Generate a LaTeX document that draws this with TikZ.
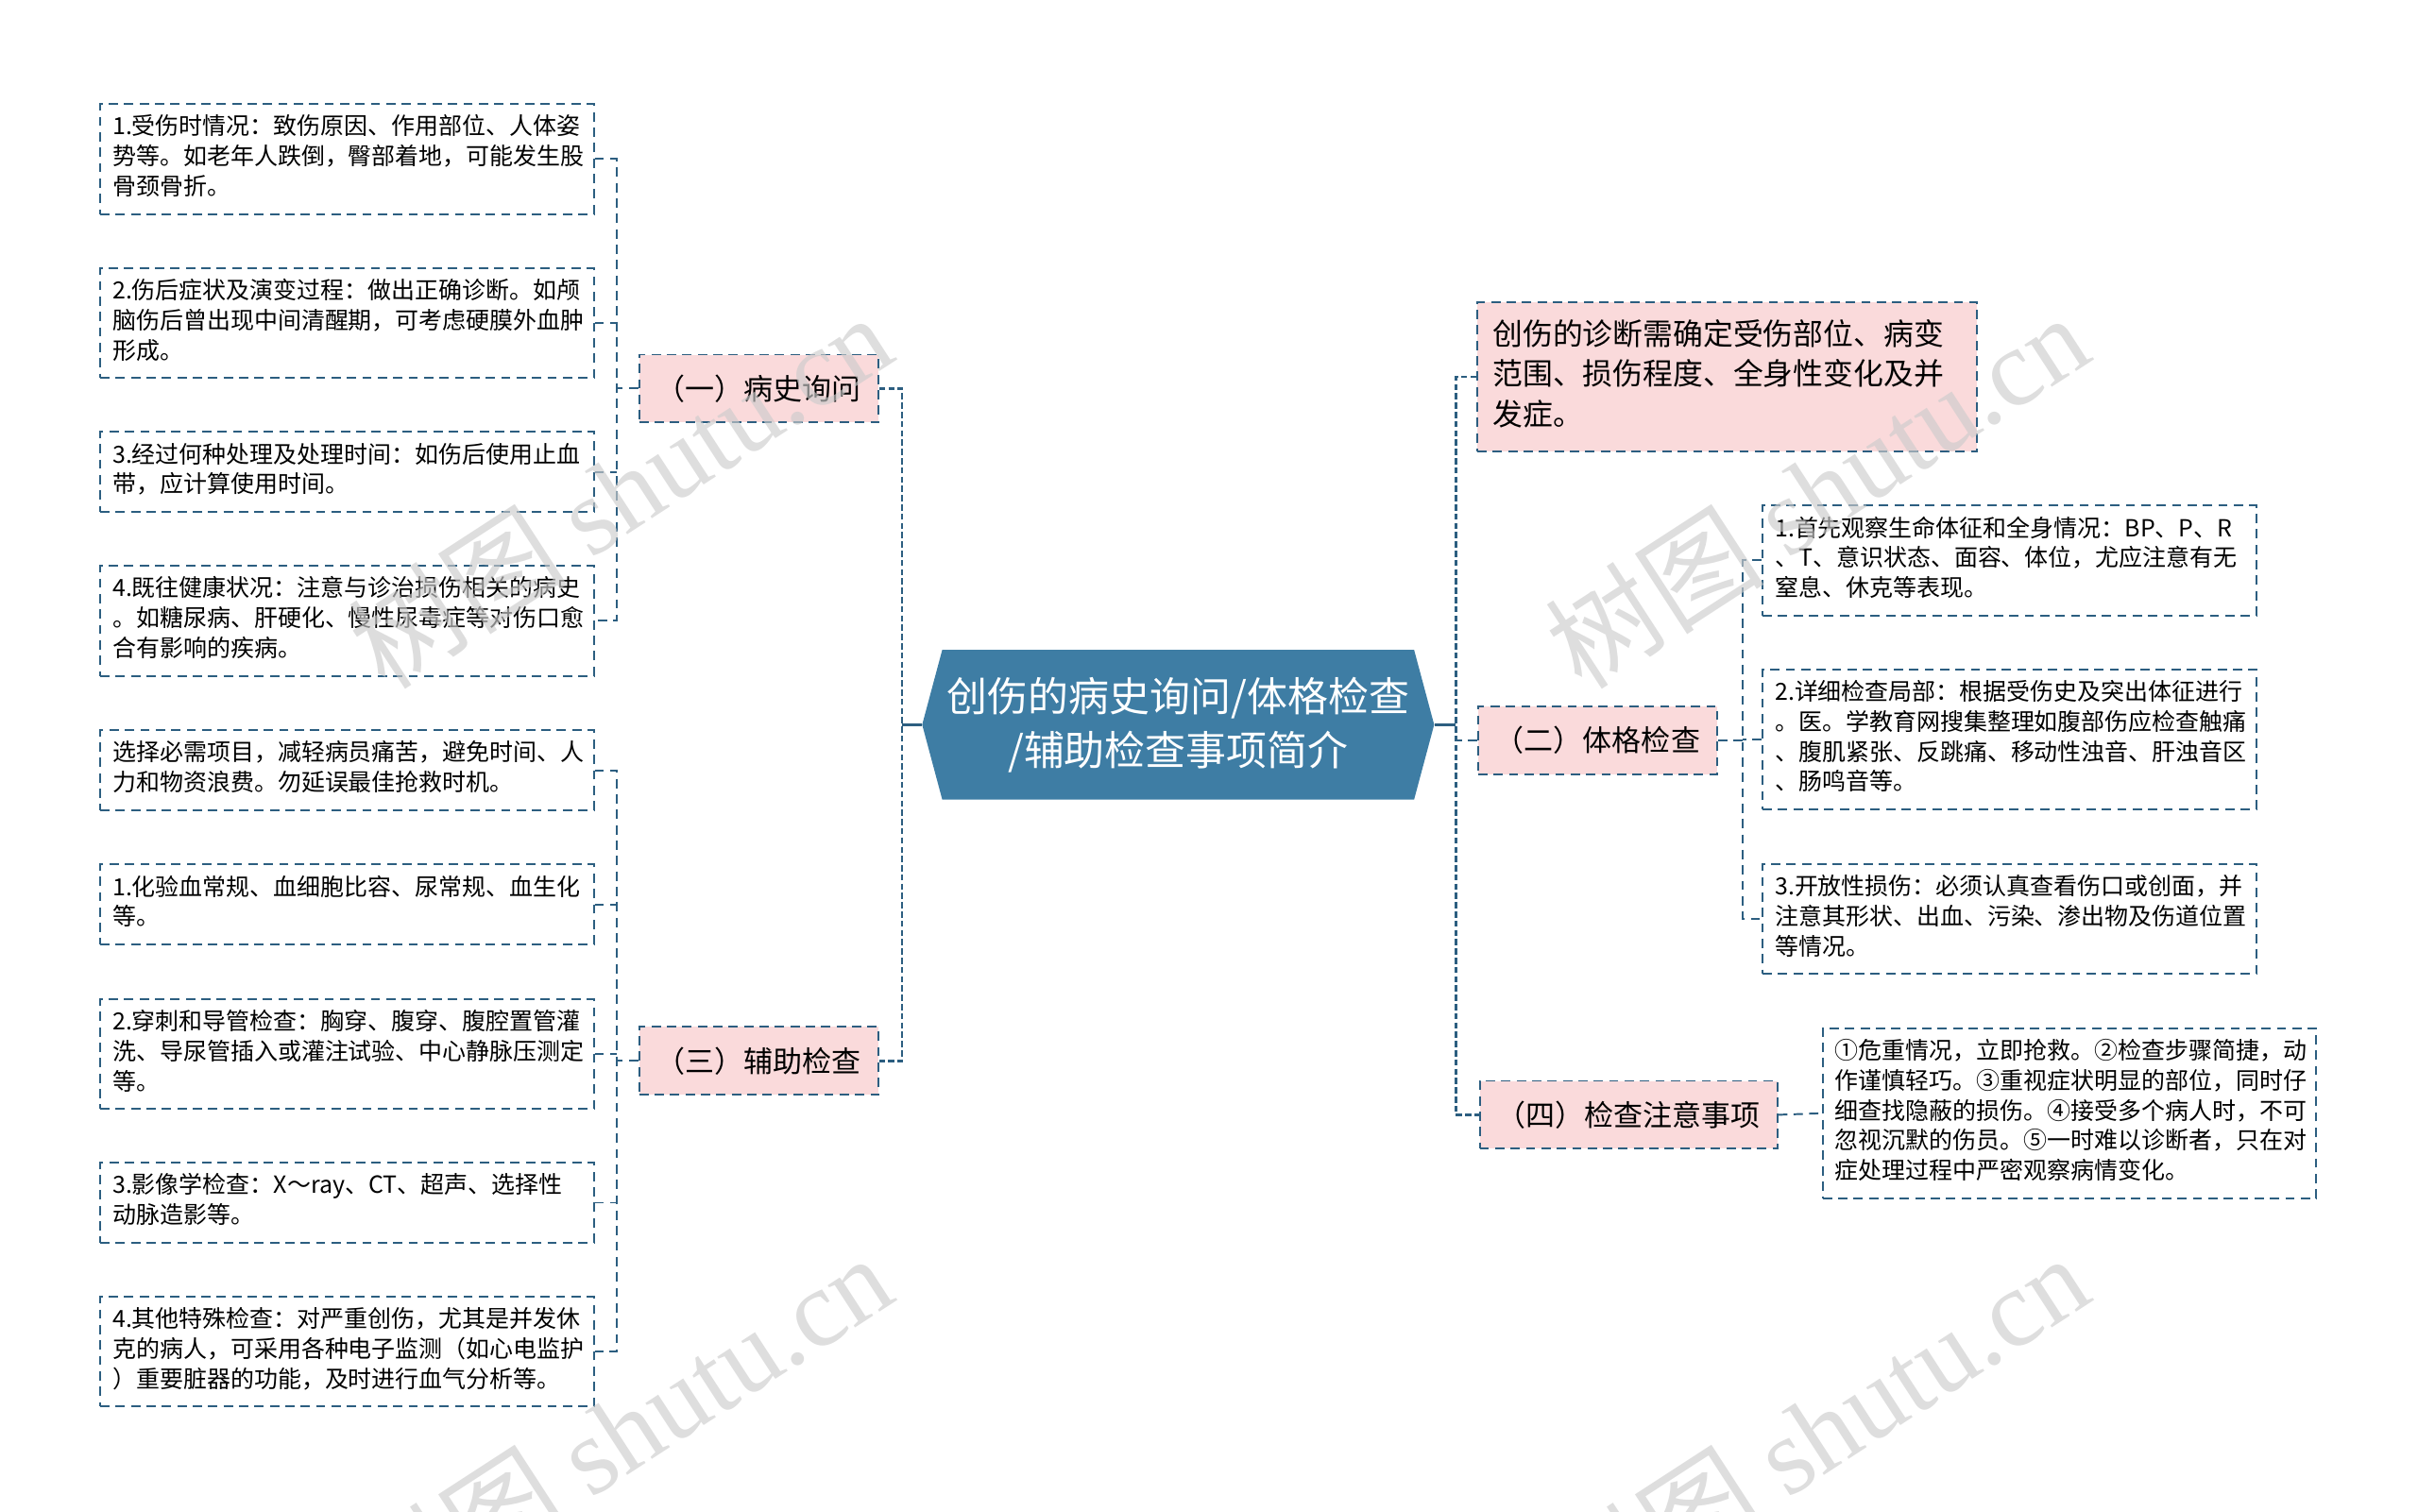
\documentclass[tikz,border=0pt]{standalone}
\usepackage{fontspec}
\setmainfont{Noto Sans CJK SC}
\newfontfamily\wmfont{Liberation Serif}
\usetikzlibrary{shapes.symbols}
\definecolor{hubblue}{RGB}{62,125,164}
\definecolor{linkblue}{RGB}{44,94,128}
\definecolor{tagpink}{RGB}{250,218,219}
\begin{document}
\begin{tikzpicture}[x=1pt, y=-1pt,
    hub/.style={shape=signal, signal to=west and east, signal pointer angle=150,
      fill=hubblue, text=white, align=center, inner sep=0pt,
      minimum width=332pt, minimum height=97pt, font=\fontsize{26.3}{35}\selectfont},
    tag/.style={draw=linkblue, fill=tagpink, line width=1.2pt, dash pattern=on 6pt off 4pt,
      minimum height=44pt, inner xsep=11pt, font=\fontsize{19}{25}\selectfont},
    note/.style={tag, text width=304pt, align=left, inner xsep=10pt, inner ysep=9.5pt,
      font=\fontsize{19.5}{26}\selectfont,
      execute at begin node=\strut, execute at end node=\strut},
    leaf/.style={draw=linkblue, fill=white, line width=1.2pt, dash pattern=on 6pt off 4pt,
      text width=304pt, align=left, inner xsep=8pt, inner ysep=6.5pt,
      font=\fontsize{15.3}{19.5}\selectfont,
      execute at begin node=\strut, execute at end node=\strut},
    link/.style={draw=linkblue, line width=1.2pt, dash pattern=on 6pt off 4pt},
    trunk/.style={draw=linkblue, line width=1.6pt, dash pattern=on 4pt off 2pt},
    wmark/.style={text=black!20, opacity=0.65, rotate=33, font=\fontsize{71}{75}\selectfont},
  ]
  \useasboundingbox (0,0) rectangle (1568,980);

  \node[hub] (hub) at (764,470) {创伤的病史询问/体格检查\\/辅助检查事项简介};

  \node[tag] (b1) at (492,252) {（一）病史询问};
  \node[tag] (b3) at (492,688) {（三）辅助检查};
  \node[note] (r0) at (1120,244.5) {创伤的诊断需确定受伤部位、病变\\范围、损伤程度、全身性变化及并\\发症。};
  \node[tag] (r2) at (1036,480) {（二）体格检查};
  \node[tag] (r4) at (1056,723) {（四）检查注意事项};

  \node[leaf] (l1) at (225,103) {1.受伤时情况：致伤原因、作用部位、人体姿\\势等。如老年人跌倒，臀部着地，可能发生股\\骨颈骨折。};
  \node[leaf] (l2) at (225,209.5) {2.伤后症状及演变过程：做出正确诊断。如颅\\脑伤后曾出现中间清醒期，可考虑硬膜外血肿\\形成。};
  \node[leaf] (l3) at (225,306) {3.经过何种处理及处理时间：如伤后使用止血\\带，应计算使用时间。};
  \node[leaf] (l4) at (225,402.5) {4.既往健康状况：注意与诊治损伤相关的病史\\。如糖尿病、肝硬化、慢性尿毒症等对伤口愈\\合有影响的疾病。};

  \node[leaf] (l5) at (225,499.5) {选择必需项目，减轻病员痛苦，避免时间、人\\力和物资浪费。勿延误最佳抢救时机。};
  \node[leaf] (l6) at (225,586.5) {1.化验血常规、血细胞比容、尿常规、血生化\\等。};
  \node[leaf] (l7) at (225,683.5) {2.穿刺和导管检查：胸穿、腹穿、腹腔置管灌\\洗、导尿管插入或灌注试验、中心静脉压测定\\等。};
  \node[leaf] (l8) at (225,780) {3.影像学检查：X～ray、CT、超声、选择性\\动脉造影等。};
  \node[leaf] (l9) at (225,876.5) {4.其他特殊检查：对严重创伤，尤其是并发休\\克的病人，可采用各种电子监测（如心电监护\\）重要脏器的功能，及时进行血气分析等。};

  \node[leaf] (q1) at (1303,363.5) {1.首先观察生命体征和全身情况：BP、P、R\\、T、意识状态、面容、体位，尤应注意有无\\窒息、休克等表现。};
  \node[leaf] (q2) at (1303,479.5) {2.详细检查局部：根据受伤史及突出体征进行\\。医。学教育网搜集整理如腹部伤应检查触痛\\、腹肌紧张、反跳痛、移动性浊音、肝浊音区\\、肠鸣音等。};
  \node[leaf] (q3) at (1303,596) {3.开放性损伤：必须认真查看伤口或创面，并\\注意其形状、出血、污染、渗出物及伤道位置\\等情况。};
  \node[leaf] (q4) at (1342,722) {①危重情况，立即抢救。②检查步骤简捷，动\\作谨慎轻巧。③重视症状明显的部位，同时仔\\细查找隐蔽的损伤。④接受多个病人时，不可\\忽视沉默的伤员。⑤一时难以诊断者，只在对\\症处理过程中严密观察病情变化。};

  \coordinate (tl) at (585,470);
  \coordinate (tr) at (944,470);
  \draw[linkblue, line width=1.6pt] (hub.west) -- (tl);
  \draw[linkblue, line width=1.6pt] (hub.east) -- (tr);
  \draw[trunk] (b1.east) -| (tl) |- (b3.east);
  \draw[trunk] (r0.west) -| (tr) |- (r4.west);
  \draw[link] (r2.west) -- (r2.west -| tr);

  \draw[link] (b1.west) -- ++(-14,0) coordinate (s1);
  \draw[link] (l1.east) -| (s1) |- (l4.east);
  \foreach \n in {l2,l3} \draw[link] (\n.east) -- (\n.east -| s1);

  \draw[link] (b3.west) -- ++(-14,0) coordinate (s3);
  \draw[link] (l5.east) -| (s3) |- (l9.east);
  \foreach \n in {l6,l7,l8} \draw[link] (\n.east) -- (\n.east -| s3);

  \draw[link] (r2.east) -- ++(16,0) coordinate (s2);
  \draw[link] (q1.west) -| (s2) |- (q3.west);
  \draw[link] (q2.west) -- (q2.west -| s2);

  \draw[link] (r4.east) -- (q4.west);

  \node[wmark] (w1) at (402,318) {树图 {\wmfont shutu.cn}};
  \node[wmark] (w2) at (1178,318) {树图 {\wmfont shutu.cn}};
  \node[wmark] (w3) at (402,928) {树图 {\wmfont shutu.cn}};
  \node[wmark] (w4) at (1178,928) {树图 {\wmfont shutu.cn}};
\end{tikzpicture}
\end{document}
